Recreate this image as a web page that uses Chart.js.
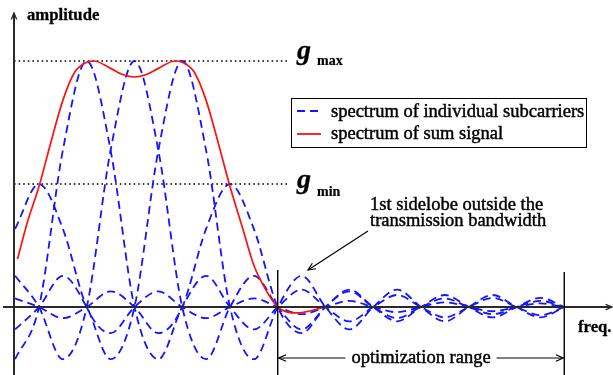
<!DOCTYPE html>
<html lang="en">
<head>
    <meta charset="UTF-8">
    <title>Subcarrier spectrum</title>
    <script src="https://cdn.jsdelivr.net/npm/chart.js"></script>
    <style>
        body {
            margin: 0;
            background: #fff;
        }
        #wrap {
            width: 613px;
            height: 375px;
        }
    </style>
</head>
<body>
    <div id="wrap"><canvas id="spectrum" width="613" height="375"></canvas></div>

    <script>
        // normalized frequency (subcarrier spacing = 1), sampled at zeros and lobe extrema
        const freqs = [-0.5, 0, 0.5, 1, 1.5, 2, 2.5, 3, 3.5, 4, 4.5, 5, 5.5, 6, 6.5, 7, 7.5, 8, 8.5, 9, 9.5, 10, 10.5, 11];

        // the five subcarriers, outer two weighted down to g_min
        const carrier0 = [0.318, 0.5, 0.318, 0, -0.106, 0, 0.064, 0, -0.045, 0, 0.035, 0, -0.029, 0, 0.025, 0, -0.021, 0, 0.019, 0, -0.017, 0, 0.015, 0];
        const carrier1 = [-0.212, 0, 0.637, 1, 0.637, 0, -0.212, 0, 0.127, 0, -0.091, 0, 0.071, 0, -0.058, 0, 0.049, 0, -0.042, 0, 0.037, 0, -0.033, 0];
        const carrier2 = [0.127, 0, -0.212, 0, 0.637, 1, 0.637, 0, -0.212, 0, 0.127, 0, -0.091, 0, 0.071, 0, -0.058, 0, 0.049, 0, -0.042, 0, 0.037, 0];
        const carrier3 = [-0.091, 0, 0.127, 0, -0.212, 0, 0.637, 1, 0.637, 0, -0.212, 0, 0.127, 0, -0.091, 0, 0.071, 0, -0.058, 0, 0.049, 0, -0.042, 0];
        const carrier4 = [0.035, 0, -0.045, 0, 0.064, 0, -0.106, 0, 0.318, 0.5, 0.318, 0, -0.106, 0, 0.064, 0, -0.045, 0, 0.035, 0, -0.029, 0, 0.025, 0];

        // sum signal, denser sampling over the passband
        const sumFreqs = [-0.45, -0.25, 0, 0.25, 0.5, 0.75, 1, 1.15, 1.5, 1.75, 2, 2.25, 2.5, 2.85, 3, 3.25, 3.5, 3.75, 4, 4.25, 4.5, 4.75, 5, 5.4, 5.75, 6, 7, 11];
        const sumValues = [0.195, 0.34, 0.49, 0.67, 0.84, 0.955, 0.995, 1.0, 0.97, 0.945, 0.935, 0.945, 0.97, 1.0, 0.995, 0.955, 0.84, 0.67, 0.49, 0.33, 0.17, 0.07, 0, -0.024, -0.012, 0, 0, 0];

        const gMax = 1.0;
        const gMin = 0.5;
        const bandEdge = 5;
        const rangeEnd = 11;

        const legendLabels = ['spectrum of individual subcarriers', 'spectrum of sum signal'];

        const BLUE = '#1414ff';
        const RED = '#ff1010';
        const INK = '#2a2a2a';
        const SERIF = '"Liberation Serif", "DejaVu Serif", serif';

        function pts(xs, ys) {
            return xs.map((x, i) => ({ x, y: ys[i] }));
        }

        function carrierSet(values) {
            return {
                data: pts(freqs, values),
                borderColor: BLUE,
                borderWidth: 1.8,
                borderDash: [8, 5],
                pointRadius: 0,
                fill: false,
                cubicInterpolationMode: 'monotone'
            };
        }

        function arrowHead(ctx, x, y, angle, len = 8, spread = 0.42) {
            ctx.beginPath();
            ctx.moveTo(x - len * Math.cos(angle - spread), y - len * Math.sin(angle - spread));
            ctx.lineTo(x, y);
            ctx.lineTo(x - len * Math.cos(angle + spread), y - len * Math.sin(angle + spread));
            ctx.stroke();
        }

        function arrowLine(ctx, x1, y1, x2, y2) {
            ctx.beginPath();
            ctx.moveTo(x1, y1);
            ctx.lineTo(x2, y2);
            ctx.stroke();
            arrowHead(ctx, x2, y2, Math.atan2(y2 - y1, x2 - x1));
        }

        // slightly heavier text, a thin outline in the fill colour
        function heavyText(ctx, text, x, y, weight = 0.45) {
            ctx.save();
            ctx.setLineDash([]);
            ctx.lineWidth = weight;
            ctx.strokeStyle = ctx.fillStyle;
            ctx.fillText(text, x, y);
            ctx.strokeText(text, x, y);
            ctx.restore();
        }

        // axes, reference levels, legend and annotations
        const decorations = {
            id: 'decorations',
            beforeDatasetsDraw(chart) {
                const { ctx, chartArea, scales: { x, y } } = chart;
                const yMax = y.getPixelForValue(gMax);
                const yMin = y.getPixelForValue(gMin);
                const dotEnd = x.getPixelForValue(5.2);

                ctx.save();
                ctx.strokeStyle = '#000';
                ctx.lineWidth = 1.5;
                ctx.setLineDash([1.6, 3]);
                [yMax, yMin].forEach(py => {
                    ctx.beginPath();
                    ctx.moveTo(chartArea.left, py);
                    ctx.lineTo(dotEnd, py);
                    ctx.stroke();
                });
                ctx.restore();
            },
            afterDatasetsDraw(chart) {
                const { ctx, chartArea, scales: { x, y } } = chart;
                const y0 = y.getPixelForValue(0);
                const yMax = y.getPixelForValue(gMax);
                const yMin = y.getPixelForValue(gMin);
                const xEdge = x.getPixelForValue(bandEdge);
                const xEnd = x.getPixelForValue(rangeEnd);

                ctx.save();
                ctx.lineCap = 'butt';

                // axes
                ctx.strokeStyle = INK;
                ctx.lineWidth = 2;
                ctx.beginPath();
                ctx.moveTo(chartArea.left, chartArea.bottom + 2);
                ctx.lineTo(chartArea.left, chartArea.top);
                ctx.stroke();
                ctx.beginPath();
                ctx.moveTo(3, y0);
                ctx.lineTo(chartArea.right, y0);
                ctx.stroke();
                ctx.lineWidth = 1.3;
                arrowHead(ctx, chartArea.left, chartArea.top, -Math.PI / 2, 7, 0.4);
                arrowHead(ctx, chartArea.right, y0, 0, 7, 0.4);

                // optimization range limits
                ctx.strokeStyle = '#000';
                ctx.lineWidth = 1.4;
                [[xEdge, 270], [xEnd, 272]].forEach(([px, top]) => {
                    ctx.beginPath();
                    ctx.moveTo(px, top);
                    ctx.lineTo(px, chartArea.bottom + 2);
                    ctx.stroke();
                });

                // range arrow with label
                ctx.font = '18.5px ' + SERIF;
                ctx.fillStyle = '#000';
                ctx.textBaseline = 'alphabetic';
                ctx.textAlign = 'center';
                const mid = (xEdge + xEnd) / 2;
                const label = 'optimization range';
                const half = ctx.measureText(label).width / 2 + 6;
                ctx.lineWidth = 1.2;
                arrowLine(ctx, mid - half, 358, xEdge + 1, 358);
                arrowLine(ctx, mid + half, 358, xEnd - 1, 358);
                heavyText(ctx, label, mid, 363);

                // sidelobe note
                ctx.textAlign = 'left';
                heavyText(ctx, '1st sidelobe outside the', 370, 210);
                heavyText(ctx, 'transmission bandwidth', 370, 226);
                ctx.lineWidth = 1.2;
                arrowLine(ctx, 368, 231, 308, 270);

                // axis titles
                ctx.font = 'bold 16.7px ' + SERIF;
                heavyText(ctx, 'amplitude', 27, 20, 0.3);
                heavyText(ctx, 'freq.', 578, 332, 0.3);

                // g_max / g_min
                [['max', yMax, -2, 4], ['min', yMin, 4, 12]].forEach(([sub, py, gOff, sOff]) => {
                    ctx.font = 'italic bold 28px ' + SERIF;
                    heavyText(ctx, 'g', 297, py + gOff, 0.3);
                    ctx.font = 'bold 14px ' + SERIF;
                    heavyText(ctx, sub, 317, py + sOff, 0.2);
                });

                // legend
                ctx.fillStyle = '#fff';
                ctx.fillRect(292, 98, 295, 50);
                ctx.strokeStyle = '#000';
                ctx.lineWidth = 1;
                ctx.strokeRect(291.5, 98.5, 295, 49);
                ctx.lineWidth = 1.8;
                ctx.strokeStyle = BLUE;
                ctx.setLineDash([8, 5]);
                ctx.beginPath();
                ctx.moveTo(297, 111);
                ctx.lineTo(321, 111);
                ctx.stroke();
                ctx.setLineDash([]);
                ctx.strokeStyle = RED;
                ctx.beginPath();
                ctx.moveTo(297, 134);
                ctx.lineTo(321, 134);
                ctx.stroke();
                ctx.fillStyle = '#000';
                ctx.font = '18.5px ' + SERIF;
                heavyText(ctx, legendLabels[0], 331, 117);
                heavyText(ctx, legendLabels[1], 331, 139);

                ctx.restore();
            }
        };

        new Chart(document.getElementById('spectrum'), {
            type: 'line',
            data: {
                datasets: [
                    {
                        data: pts(sumFreqs, sumValues),
                        borderColor: RED,
                        borderWidth: 1.7,
                        pointRadius: 0,
                        fill: false,
                        cubicInterpolationMode: 'monotone'
                    },
                    carrierSet(carrier0),
                    carrierSet(carrier1),
                    carrierSet(carrier2),
                    carrierSet(carrier3),
                    carrierSet(carrier4)
                ]
            },
            options: {
                responsive: false,
                animation: false,
                layout: { padding: { left: 14, right: 1, top: 13, bottom: 2 } },
                scales: {
                    x: { type: 'linear', min: -0.523, max: 12, display: false },
                    y: { min: -0.268, max: 1.195, display: false }
                },
                plugins: {
                    legend: { display: false },
                    tooltip: { enabled: false }
                }
            },
            plugins: [decorations]
        });
    </script>
</body>
</html>
